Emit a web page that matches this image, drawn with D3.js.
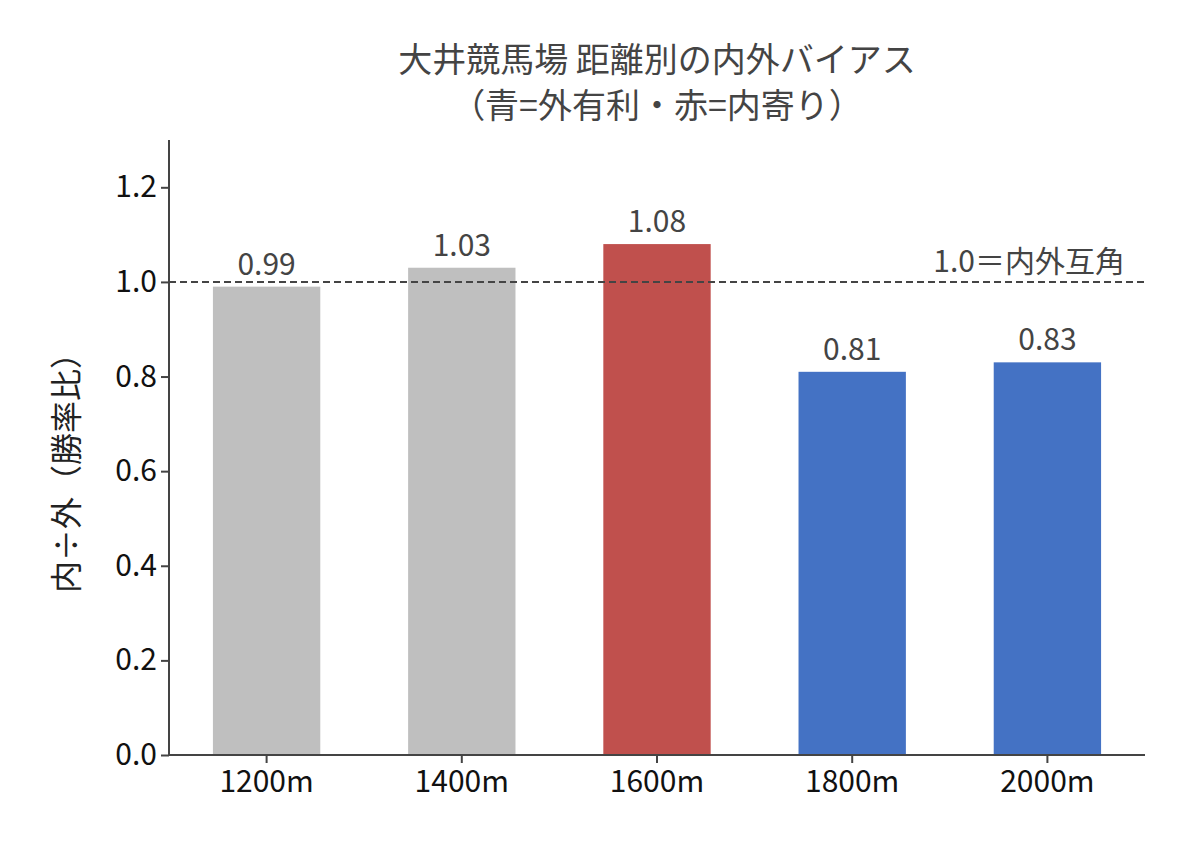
<!DOCTYPE html>
<html><head><meta charset="utf-8">
<script src="https://cdn.jsdelivr.net/npm/d3@7"></script>
<style>body{margin:0;background:#fff}text{font-family:"Noto Sans CJK JP","Noto Sans",sans-serif}</style>
</head><body><svg id="c" width="1188" height="858"></svg>
<script>
const categories=["1200m","1400m","1600m","1800m","2000m"];
const values=[0.99,1.03,1.08,0.81,0.83];
const barColors=["#bfbfbf","#bfbfbf","#c0504d","#4472c4","#4472c4"];
const yTicks=[0,0.2,0.4,0.6,0.8,1.0,1.2];
const svg=d3.select("#c");
const x=d3.scaleBand().domain(categories).range([169,1145]).paddingInner(0.45).paddingOuter(0.225);
const y=d3.scaleLinear().domain([0,1.3]).range([755,140]);
svg.selectAll("rect.b").data(values).join("rect").attr("x",(d,i)=>x(categories[i])).attr("width",x.bandwidth())
 .attr("y",d=>y(d)).attr("height",d=>y(0)-y(d)).attr("fill",(d,i)=>barColors[i]);
svg.selectAll("text.v").data(values).join("text").attr("x",(d,i)=>x(categories[i])+x.bandwidth()/2).attr("y",d=>y(d)-12)
 .attr("text-anchor","middle").attr("font-size",30).attr("fill","#444").text(d=>d.toFixed(2));
svg.append("line").attr("x1",169).attr("x2",1145).attr("y1",y(1)).attr("y2",y(1)).attr("stroke","#444").attr("stroke-width",2).attr("stroke-dasharray","7,4");
svg.append("text").attr("x",1125).attr("y",y(1)-10).attr("text-anchor","end").attr("font-size",30).attr("fill","#444").text("1.0＝内外互角");
const ya=svg.append("g").attr("transform","translate(169,0)").call(d3.axisLeft(y).tickValues(yTicks).tickFormat(d3.format(".1f")).tickSize(8));
ya.select(".domain").attr("d","M0,755V140").attr("stroke","#444").attr("stroke-width",2);
const xa=svg.append("g").attr("transform","translate(0,755)").call(d3.axisBottom(x).tickSize(8));
xa.select(".domain").attr("d","M169,0H1145").attr("stroke","#444").attr("stroke-width",2);
svg.selectAll(".tick line").attr("stroke","#444").attr("stroke-width",2);
svg.selectAll(".tick text").attr("font-size",30).attr("fill","#111").attr("font-family","Noto Sans CJK JP");
ya.selectAll(".tick text").attr("x",-12);
xa.selectAll(".tick text").attr("y",16);
svg.append("text").attr("transform","translate(78,465) rotate(-90)").attr("text-anchor","middle").attr("font-size",32).attr("fill","#222").text("内÷外（勝率比）");
svg.append("text").attr("x",657).attr("y",72).attr("text-anchor","middle").attr("font-size",34).attr("fill","#444").text("大井競馬場 距離別の内外バイアス");
svg.append("text").attr("x",657).attr("y",118).attr("text-anchor","middle").attr("font-size",34).attr("fill","#444").text("（青=外有利・赤=内寄り）");
</script></body></html>
